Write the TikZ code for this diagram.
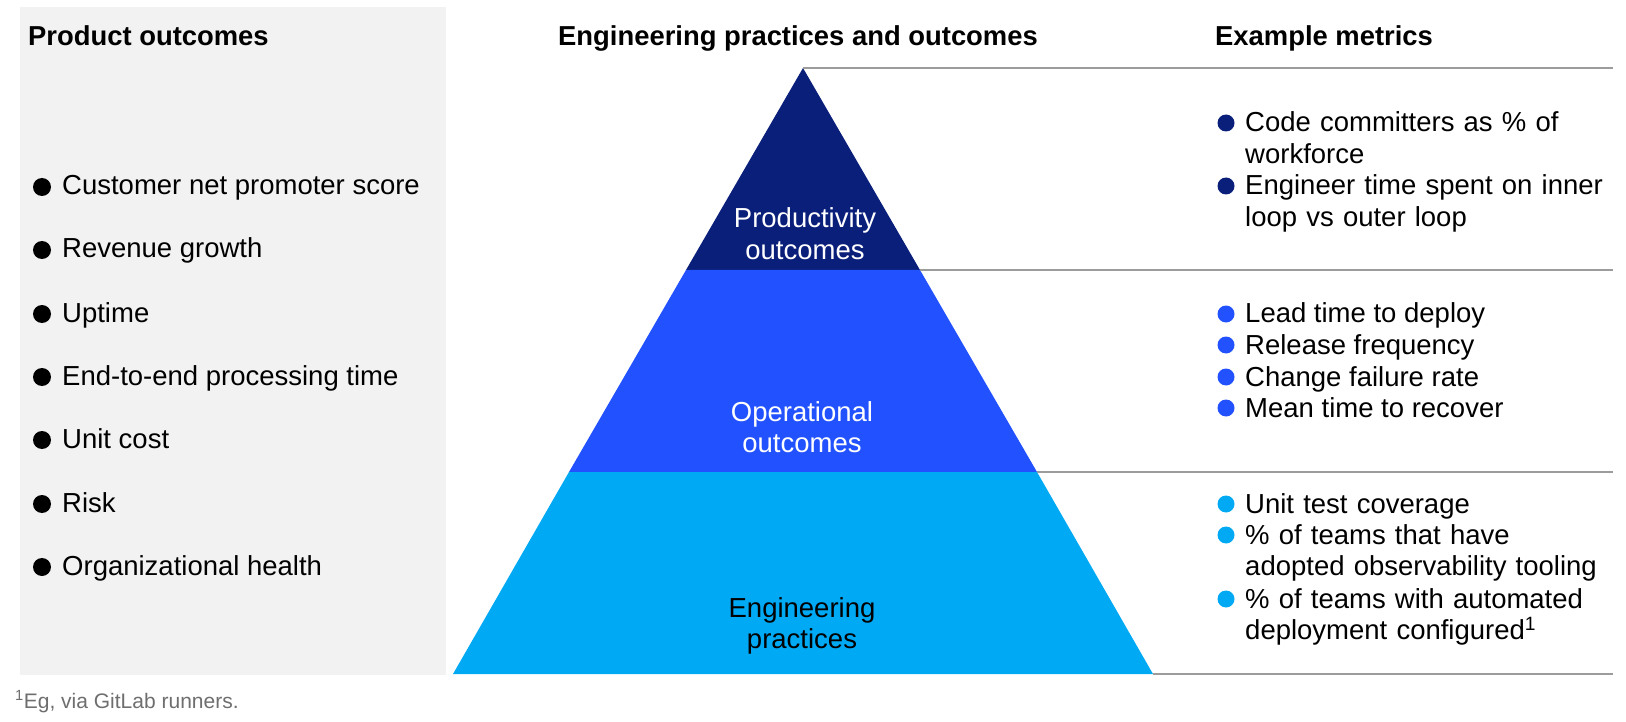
\documentclass[tikz,border=0pt]{standalone}
\usepackage{fontspec}
\setmainfont{Liberation Sans}
\definecolor{prodblue}{HTML}{0A1F79}
\definecolor{opblue}{HTML}{2251FF}
\definecolor{engblue}{HTML}{00A9F4}
\definecolor{panelgray}{HTML}{F2F2F2}
\definecolor{rulegray}{HTML}{9C9C9C}
\definecolor{notegray}{HTML}{6E6E6E}
\begin{document}
\begin{tikzpicture}[x=1pt, y=-1pt,
	hdr/.style={font=\fontsize{27.4}{31.5}\selectfont\bfseries, inner sep=0pt},
	item/.style={font=\fontsize{27.5}{31.5}\selectfont, inner sep=0pt, anchor=base west},
	metric/.style={item, text width=370pt, align=left},
	tier/.style={font=\fontsize{27.5}{31.5}\selectfont, inner sep=0pt, anchor=base, text width=240pt, align=center},
	rule/.style={rulegray, line width=1.4pt}]
	\useasboundingbox (0,0) rectangle (1626,722);
	\fill[panelgray] (20,7) rectangle (446,675);
	\node[hdr, anchor=base west] (prodhdr) at (28,46) {Product outcomes};
	\node[hdr, anchor=base] (enghdr) at (798,46) {Engineering practices and outcomes};
	\node[hdr, anchor=base west] (methdr) at (1215,46) {Example metrics};
	\foreach \y/\ytext in {195/Customer net promoter score, 258/Revenue growth, 322/Uptime, 385/End-to-end processing time, 448/Unit cost, 512/Risk, 575/Organizational health} {
		\fill[black] (42,\y-8) circle (9);
		\node[item] (po\y) at (62,\y) {\ytext};
	}
	\coordinate (apex) at (803,68);
	\coordinate (l1) at (686,270);
	\coordinate (r1) at (920,270);
	\coordinate (l2) at (569,472);
	\coordinate (r2) at (1037,472);
	\coordinate (bl) at (453,674);
	\coordinate (br) at (1153,674);
	\fill[prodblue] (apex) -- (r1) -- (l1) -- cycle;
	\fill[opblue] (l1) -- (r1) -- (r2) -- (l2) -- cycle;
	\fill[engblue] (l2) -- (r2) -- (br) -- (bl) -- cycle;
	\node[tier, text=white] (prodlbl) at (805,228) {Productivity\\outcomes};
	\node[tier, text=white] (oplbl) at (802,421) {Operational\\outcomes};
	\node[tier, text=black] (englbl) at (802,617) {Engineering\\practices};
	\coordinate (e0) at (1613,68);
	\coordinate (e1) at (1613,270);
	\coordinate (e2) at (1613,472);
	\coordinate (e3) at (1613,674);
	\draw[rule] (apex) -- (e0);
	\draw[rule] (r1) -- (e1);
	\draw[rule] (r2) -- (e2);
	\draw[rule] (br) -- (e3);
	\foreach \y in {132,195}
		\fill[prodblue] (1226,\y-9) circle (8.5);
	\node[metric] (pm1) at (1245,132) {Code committers as \% of\\workforce};
	\node[metric] (pm2) at (1245,195) {Engineer time spent on inner\\loop vs outer loop};
	\foreach \y/\ytext in {323/Lead time to deploy, 354/Release frequency, 386/Change failure rate, 417/Mean time to recover} {
		\fill[opblue] (1226,\y-9) circle (8.5);
		\node[item] (om\y) at (1245,\y) {\ytext};
	}
	\foreach \y in {513,544,608}
		\fill[engblue] (1226,\y-9) circle (8.5);
	\node[metric] (em1) at (1245,513) {Unit test coverage};
	\node[metric] (em2) at (1245,544) {\% of teams that have\\adopted observability tooling};
	\node[metric] (em3) at (1245,608) {\% of teams with automated\\deployment configured\textsuperscript{1}};
	\node[font=\fontsize{21}{25}\selectfont, text=notegray, inner sep=0pt, anchor=base west] (note) at (15,708) {\textsuperscript{1}Eg, via GitLab runners.};
\end{tikzpicture}
\end{document}
